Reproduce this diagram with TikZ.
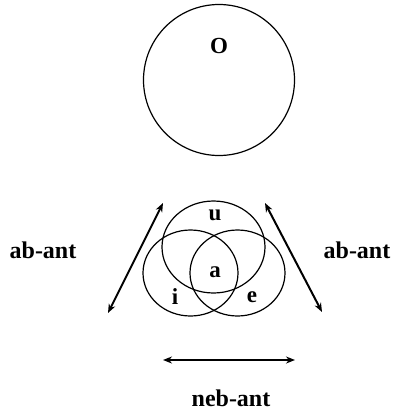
\documentclass[tikz,border=0pt]{standalone}
\usepackage{fontspec}
\setmainfont{Liberation Serif}
\usepackage{tikz}
\usetikzlibrary{shapes.geometric, positioning, arrows.meta}

\begin{document}
\begin{tikzpicture}[
        x=1pt, y=-1pt,
        thick,
        >={Stealth[length=9pt, width=7pt]},
        ring/.style={ellipse, draw, line width=1.2pt, inner sep=0pt},
        lbl/.style={font=\fontsize{24}{24}\selectfont\bfseries},
        vowel/.style={font=\fontsize{23}{23}\selectfont\bfseries},
        span/.style={<->, line width=2pt}
    ]
    \useasboundingbox (0,0) rectangle (395,410);

    % Nodes with simple styles
    \node[ring, minimum width=151pt, minimum height=151pt] (back) at (219,80) {};
    \node[vowel] (o) at (219,46) {O};

    \node[ring, minimum width=103pt, minimum height=92pt] (up) at (213.5,247) {};
    \node[ring, minimum width=95pt, minimum height=86pt] (front) at (190.5,273) {};
    \node[ring, minimum width=95pt, minimum height=86pt] (low) at (237.5,273) {};

    \node[vowel] (u) at (215,215) {u};
    \node[vowel] (a) at (215,272) {a};
    \node[vowel] (i) at (175,297) {i};
    \node[vowel] (e) at (252,297) {e};

    % Input/output labels
    \node[lbl] (abl) at (43,250) {ab-ant};
    \node[lbl] (abr) at (357,250) {ab-ant};
    \node[lbl] (neb) at (231,398) {neb-ant};

    \coordinate (l1) at (163,203);
    \coordinate (l2) at (108,313);
    \coordinate (r1) at (265,203);
    \coordinate (r2) at (322,312);
    \coordinate (b1) at (163,360);
    \coordinate (b2) at (295,360);

    % Simple arrows
    \draw[span] (l1) -- (l2);
    \draw[span] (r1) -- (r2);
    \draw[span] (b1) -- (b2);

\end{tikzpicture}
\end{document}
